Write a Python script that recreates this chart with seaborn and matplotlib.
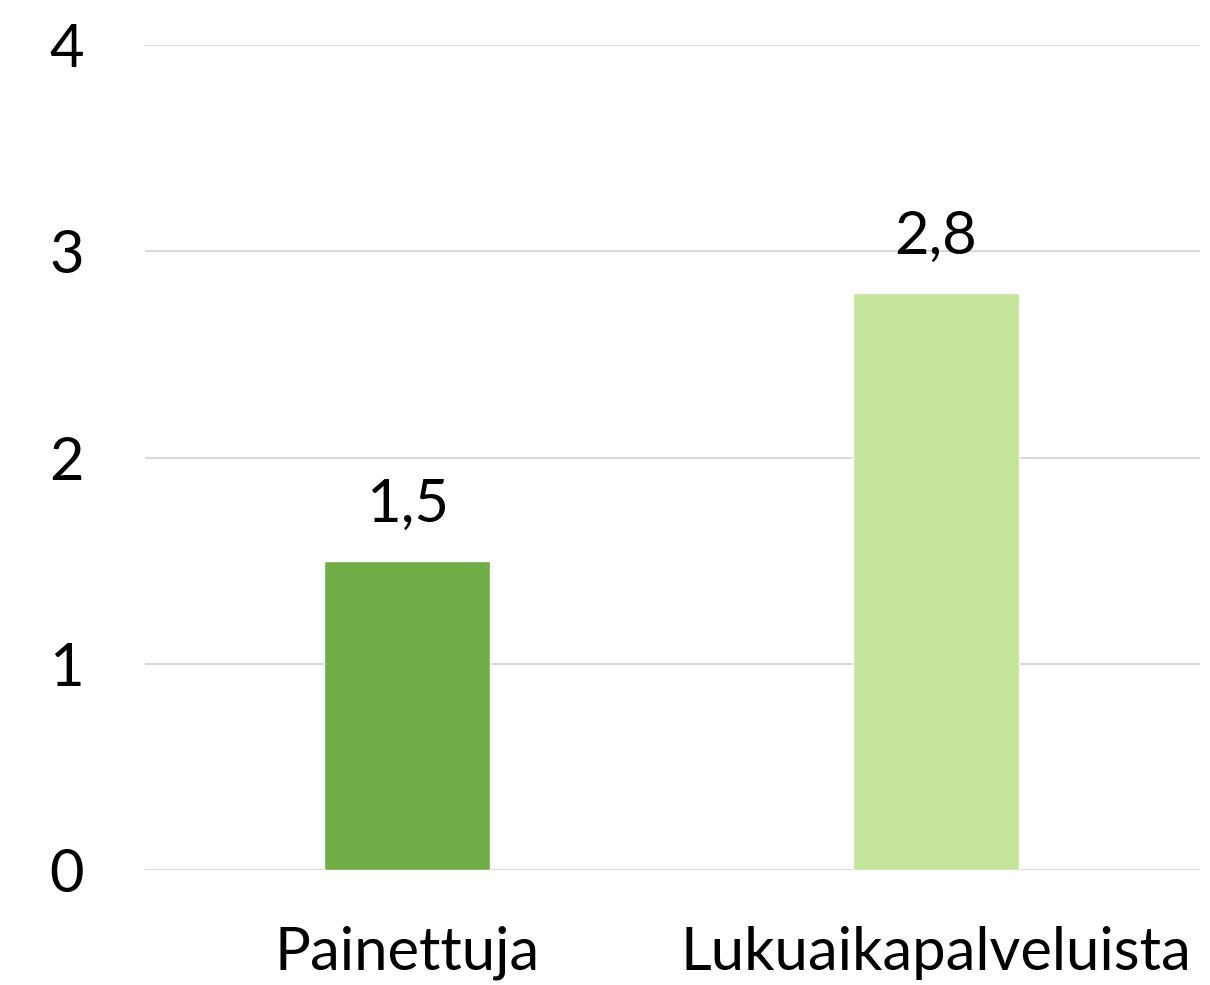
import matplotlib
matplotlib.use("Agg")
import matplotlib.pyplot as plt
import seaborn as sns
import pandas as pd

categories = ["Painettuja", "Lukuaikapalveluista"]
values = [1.5, 2.8]
value_labels = ["1,5", "2,8"]
bar_colors = ["#70AD47", "#C5E59A"]
y_ticks = [0, 1, 2, 3, 4]
y_tick_labels = ["0", "1", "2", "3", "4"]

sns.set_theme(style="white")
plt.rcParams["font.family"] = ["Lato", "DejaVu Sans"]
plt.rcParams["text.color"] = "black"
plt.rcParams["xtick.color"] = "black"
plt.rcParams["ytick.color"] = "black"

df = pd.DataFrame({"category": categories, "value": values})

fig = plt.figure(figsize=(12.1, 9.85), dpi=100)
ax = fig.add_axes([0.12, 0.1168, 0.872, 0.8372])

sns.barplot(data=df, x="category", y="value", hue="category",
            palette=bar_colors, width=0.314, legend=False, ax=ax,
            saturation=1)

ax.set_xlim(-0.496, 1.5)
ax.set_ylim(0, 4)
ax.set_yticks(y_ticks)
ax.set_yticklabels(y_tick_labels)
ax.yaxis.grid(True, color="#D9D9D9", linewidth=1.5)
ax.set_axisbelow(True)
for s in ax.spines.values():
    s.set_visible(False)
ax.tick_params(axis="y", length=0, pad=44, labelsize=43, labelcolor="black")
ax.tick_params(axis="x", length=0, pad=40, labelsize=43, labelcolor="black")
ax.set_xlabel("")
ax.set_ylabel("")

for patch, lab in zip(ax.patches, value_labels):
    ax.annotate(lab, (patch.get_x() + patch.get_width() / 2, patch.get_height()),
                xytext=(0, 21), textcoords="offset points",
                ha="center", va="bottom", fontsize=43, color="black")

fig.savefig("out.png", dpi=100)
